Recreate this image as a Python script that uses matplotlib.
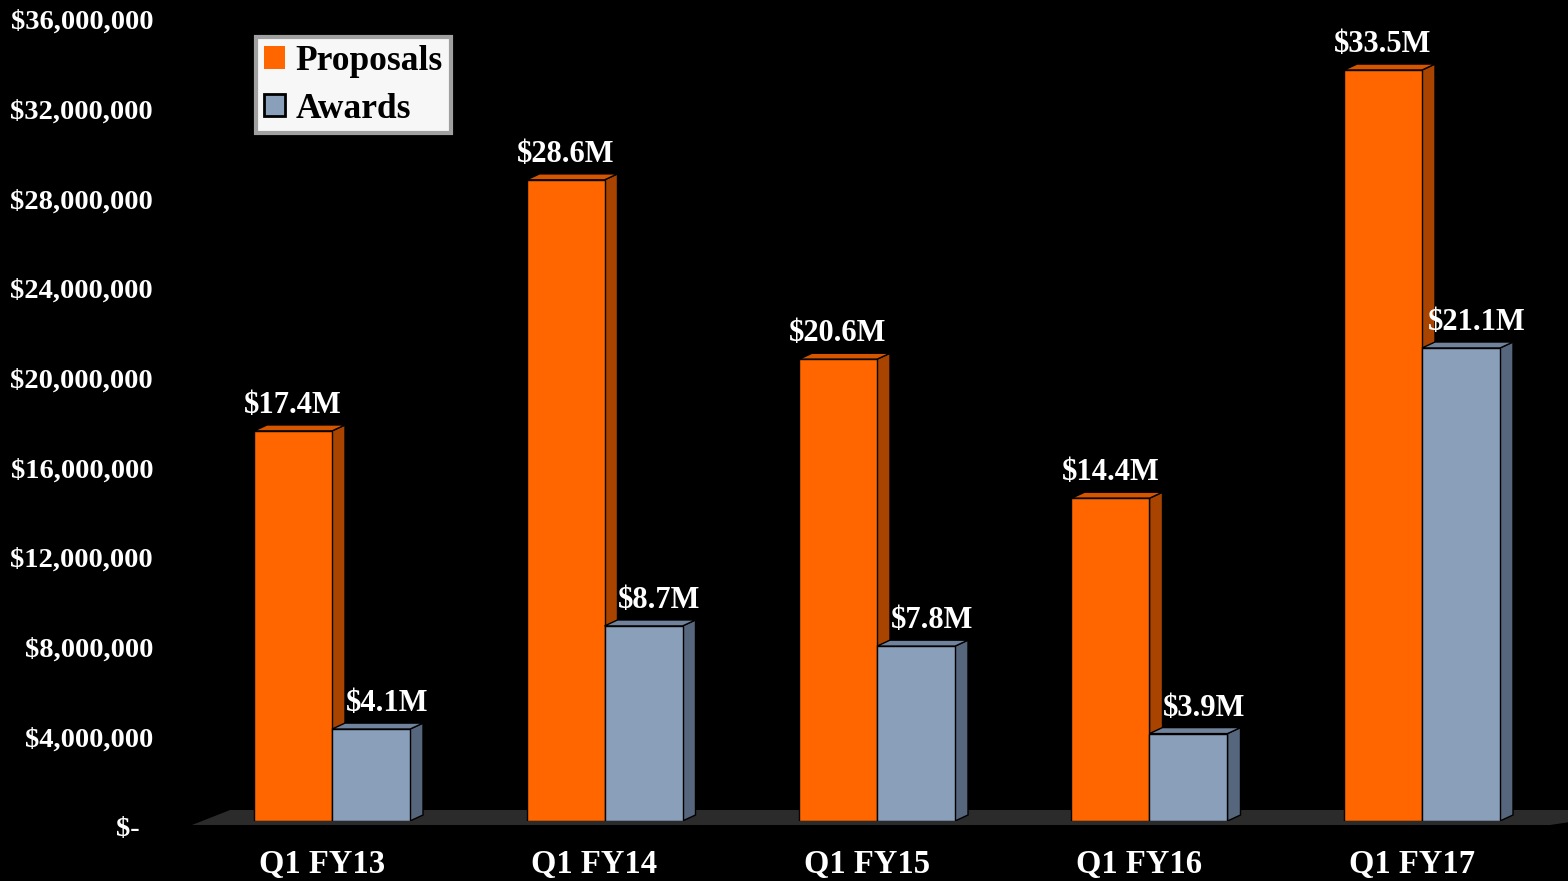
import matplotlib
matplotlib.use('Agg')
import matplotlib.pyplot as plt
import matplotlib.transforms as mtransforms
from matplotlib.patches import Patch, Polygon
import numpy as np

# Chart data
categories = ['Q1 FY13', 'Q1 FY14', 'Q1 FY15', 'Q1 FY16', 'Q1 FY17']
proposals = [17.4e6, 28.6e6, 20.6e6, 14.4e6, 33.5e6]
awards = [4.1e6, 8.7e6, 7.8e6, 3.9e6, 21.1e6]
prop_labels = ['$17.4M', '$28.6M', '$20.6M', '$14.4M', '$33.5M']
award_labels = ['$4.1M', '$8.7M', '$7.8M', '$3.9M', '$21.1M']
y_ticks = [0, 4e6, 8e6, 12e6, 16e6, 20e6, 24e6, 28e6, 32e6, 36e6]
y_tick_labels = ['$-', '$4,000,000', '$8,000,000', '$12,000,000', '$16,000,000',
                 '$20,000,000', '$24,000,000', '$28,000,000', '$32,000,000', '$36,000,000']

# colours: front, side, top
prop_colors = ('#FF6600', '#A84400', '#D65600')
award_colors = ('#8A9FBA', '#56667C', '#71839C')
floor_color = '#2B2B2B'

plt.rcParams['font.family'] = ['Liberation Serif', 'DejaVu Serif']
plt.rcParams['font.weight'] = 'bold'

W, H = 1568, 881
fig = plt.figure(figsize=(W / 100, H / 100), dpi=100, facecolor='black')

# axes placed in pixel terms
left_px, right_px = 160, 1568
zero_px, top_px = 821, 14  # from top of image
ax = fig.add_axes([left_px / W, (H - zero_px) / H, (right_px - left_px) / W, (zero_px - top_px) / H])
ax.set_facecolor('black')

group_px = 272.5
center0_px = 332
x0 = (left_px - center0_px) / group_px
x1 = (right_px - center0_px) / group_px
ax.set_xlim(x0, x1)
ax.set_ylim(0, 36e6)

px_x = group_px                      # pixels per x unit
px_y = (zero_px - top_px) / 36e6     # pixels per y unit
depth_dx = 13 / px_x
depth_dy = 6 / px_y
bar_w = 78 / group_px


def draw_box(xl, val, colors):
    front, side, top = colors
    xr = xl + bar_w
    side_poly = [(xr, 0), (xr + depth_dx, depth_dy), (xr + depth_dx, val + depth_dy), (xr, val)]
    top_poly = [(xl, val), (xl + depth_dx, val + depth_dy), (xr + depth_dx, val + depth_dy), (xr, val)]
    ax.add_patch(Polygon(side_poly, closed=True, facecolor=side, edgecolor='black', lw=1, zorder=3))
    ax.add_patch(Polygon(top_poly, closed=True, facecolor=top, edgecolor='black', lw=1, zorder=3))
    ax.bar(xl, val, width=bar_w, align='edge', color=front, edgecolor='black', lw=1, zorder=3)


# floor
floor_front = -4 / px_y
floor_back = 11 / px_y
floor = [(-0.514, floor_front), (-0.374, floor_back), (x1 + 0.3, floor_back), (4.47, floor_front)]
ax.add_patch(Polygon(floor, closed=True, facecolor=floor_color, edgecolor='none', zorder=1, clip_on=False))

x = np.arange(len(categories))
award_shift = 16 / px_x
for i in x:
    draw_box(i - bar_w, proposals[i], prop_colors)
    draw_box(i, awards[i], award_colors)
    ax.text(i - bar_w / 2, proposals[i] + 11 / px_y, prop_labels[i], ha='center', va='bottom',
            color='white', fontsize=22, fontweight='bold', zorder=5)
    ax.text(i + bar_w / 2 + award_shift, awards[i] + 11 / px_y, award_labels[i], ha='center', va='bottom',
            color='white', fontsize=22, fontweight='bold', zorder=5)

# axis styling
for s in ax.spines.values():
    s.set_visible(False)
ax.set_yticks(y_ticks)
ax.set_yticklabels(y_tick_labels)
ax.set_xticks(x)
ax.set_xticklabels(categories)
ax.tick_params(axis='y', length=0, pad=5, labelsize=20.5, labelcolor='white')
ax.tick_params(axis='x', length=0, pad=20, labelsize=23.5, labelcolor='white')
for lbl in ax.get_yticklabels():
    lbl.set_fontweight('bold')
    lbl.set_transform(lbl.get_transform() + mtransforms.ScaledTranslation(0, -5.5 / 100, fig.dpi_scale_trans))
ax.get_yticklabels()[0].set_transform(ax.get_yticklabels()[0].get_transform()
                                      + mtransforms.ScaledTranslation(-13 / 100, 0, fig.dpi_scale_trans))
for lbl in ax.get_xticklabels():
    lbl.set_fontweight('bold')
    lbl.set_transform(lbl.get_transform() + mtransforms.ScaledTranslation(-10 / 100, 0, fig.dpi_scale_trans))

# legend
handles = [Patch(facecolor=prop_colors[0], edgecolor='none', label='Proposals'),
           Patch(facecolor=award_colors[0], edgecolor='black', lw=2, label='Awards')]
leg = fig.legend(handles=handles, loc='upper left', bbox_to_anchor=(256 / W, 1 - 37 / H),
                 frameon=True, fancybox=False, facecolor='#F7F7F7', edgecolor='#A0A0A0',
                 prop={'family': 'Liberation Serif', 'weight': 'bold', 'size': 25.5},
                 handlelength=0.6, handleheight=0.6, handletextpad=0.3,
                 labelspacing=0.42, borderpad=0.22, borderaxespad=0)
leg.get_frame().set_linewidth(3)
leg.get_frame().set_alpha(1)

fig.savefig('out.png', dpi=100, facecolor='black')
